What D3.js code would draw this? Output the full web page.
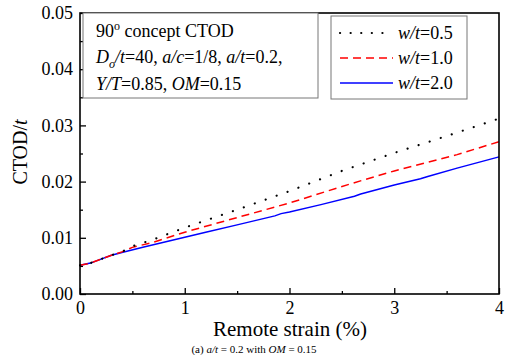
<!DOCTYPE html>
<html>
<head>
<meta charset="utf-8">
<script src="https://cdn.jsdelivr.net/npm/d3@7"></script>
<style>
  body { margin: 0; background: #fff; }
  svg text { font-family: "Liberation Serif", "Times New Roman", Tinos, "DejaVu Serif", serif !important; fill: #000; }
</style>
</head>
<body>
<div id="chart"></div>
<script>
// remote strain (%) vs CTOD/t
const strainA = [0, 0.1, 0.2, 0.3, 0.4, 0.5, 0.7, 1.0, 1.5, 2.0, 2.5, 3.0, 3.5, 4.0];
const ctodA   = [0.0051, 0.0055, 0.0062, 0.0069, 0.0075, 0.0085, 0.0097, 0.0118, 0.0150, 0.0183, 0.0219, 0.0251, 0.0281, 0.0312];

const strainB = [0, 0.1, 0.2, 0.3, 0.4, 0.5, 0.7, 1.0, 1.5, 2.0, 2.6, 3.0, 3.6, 4.0];
const ctodB   = [0.0051, 0.0055, 0.0062, 0.0069, 0.0075, 0.0083, 0.0092, 0.0110, 0.0136, 0.0162, 0.0197, 0.0219, 0.0248, 0.0271];

const strainC = [0, 0.1, 0.2, 0.3, 0.4, 0.6, 0.8, 1.0, 1.2, 1.5, 1.86, 1.92, 2.0, 2.3, 2.62, 2.68, 3.0, 3.25, 3.32, 3.6, 4.0];
const ctodC   = [0.0051, 0.0055, 0.0062, 0.0069, 0.0074, 0.0083, 0.0092, 0.0101, 0.0110, 0.0123, 0.0139, 0.0143, 0.0146, 0.0159, 0.0174, 0.0178, 0.0194, 0.0205, 0.0209, 0.0224, 0.0244];

const seriesLabels = ['0.5', '1.0', '2.0'];
const xTicks = [0, 1, 2, 3, 4];
const xMinor = [0.5, 1.5, 2.5, 3.5];
const yTicks = [0, 0.01, 0.02, 0.03, 0.04, 0.05];
const yMinor = [0.005, 0.015, 0.025, 0.035, 0.045];

const serif = '"Liberation Serif", "Times New Roman", Tinos, "DejaVu Serif", serif';

const width = 508, height = 355;
const margin = { top: 13, right: 9, bottom: 61, left: 80 };
const w = width - margin.left - margin.right;
const h = height - margin.top - margin.bottom;

const svg = d3.select('#chart').append('svg')
  .attr('width', width)
  .attr('height', height)
  .attr('font-family', serif);

const g = svg.append('g')
  .attr('transform', `translate(${margin.left},${margin.top})`);

const x = d3.scaleLinear().domain([0, 4]).range([0, w]);
const y = d3.scaleLinear().domain([0, 0.05]).range([h, 0]);

// axes, ticks pointing inward
g.append('g')
  .call(d3.axisLeft(y).tickValues(yTicks).tickSize(-6).tickPadding(7).tickFormat(d3.format('.2f')));
g.append('g')
  .call(d3.axisLeft(y).tickValues(yMinor).tickSize(-3).tickFormat(''));

g.append('g')
  .attr('transform', `translate(0,${h})`)
  .call(d3.axisBottom(x).tickValues(xTicks).tickSize(-6).tickPadding(7).tickFormat(d3.format('d')));
g.append('g')
  .attr('transform', `translate(0,${h})`)
  .call(d3.axisBottom(x).tickValues(xMinor).tickSize(-3).tickFormat(''));

g.selectAll('.domain').remove();
g.selectAll('g').attr('font-family', serif).attr('font-size', 18);
g.selectAll('.tick line').attr('stroke', '#000').attr('stroke-width', 1.3);
g.selectAll('.tick text').attr('fill', '#000');

// curves
const line = d3.line().x(d => x(d[0])).y(d => y(d[1]));
const styles = [
  { color: '#000', width: 2.2, dash: '0.1,11.5', cap: 'round' },
  { color: '#ff0000', width: 1.5, dash: '8,5', cap: 'butt' },
  { color: '#0000ff', width: 1.5, dash: null, cap: 'butt' }
];
const series = [
  d3.zip(strainA, ctodA),
  d3.zip(strainB, ctodB),
  d3.zip(strainC, ctodC)
];
// blue first so dotted/dashed sit on top
[2, 1, 0].forEach(i => {
  g.append('path')
    .datum(series[i])
    .attr('fill', 'none')
    .attr('stroke', styles[i].color)
    .attr('stroke-width', styles[i].width)
    .attr('stroke-linecap', styles[i].cap)
    .attr('stroke-dasharray', styles[i].dash)
    .attr('d', line);
});

// frame
g.append('rect')
  .attr('width', w).attr('height', h)
  .attr('fill', 'none')
  .attr('stroke', '#000')
  .attr('stroke-width', 1.6);

// info box
const info = svg.append('g');
info.append('rect')
  .attr('x', 83).attr('y', 13).attr('width', 235).attr('height', 85)
  .attr('fill', '#fff').attr('stroke', '#777').attr('stroke-width', 1);

const t1 = info.append('text').attr('x', 96).attr('y', 37).attr('font-size', 18);
t1.append('tspan').text('90');
t1.append('tspan').attr('dy', -7).attr('font-size', 12).text('o');
t1.append('tspan').attr('dy', 7).text(' concept CTOD');

const t2 = info.append('text').attr('x', 96).attr('y', 63).attr('font-size', 18);
t2.append('tspan').attr('font-style', 'italic').text('D');
t2.append('tspan').attr('dy', 5).attr('font-style', 'italic').attr('font-size', 12).text('o');
t2.append('tspan').attr('dy', -5).attr('font-style', 'italic').text('/t');
t2.append('tspan').text('=40, ');
t2.append('tspan').attr('font-style', 'italic').text('a/c');
t2.append('tspan').text('=1/8, ');
t2.append('tspan').attr('font-style', 'italic').text('a/t');
t2.append('tspan').text('=0.2,');

const t3 = info.append('text').attr('x', 96).attr('y', 90).attr('font-size', 18);
t3.append('tspan').attr('font-style', 'italic').text('Y/T');
t3.append('tspan').text('=0.85, ');
t3.append('tspan').attr('font-style', 'italic').text('OM');
t3.append('tspan').text('=0.15');

// legend
const legend = svg.append('g');
legend.append('rect')
  .attr('x', 331).attr('y', 16).attr('width', 136).attr('height', 83)
  .attr('fill', '#fff').attr('stroke', '#777').attr('stroke-width', 1);

seriesLabels.forEach((lab, i) => {
  const ly = 33 + i * 25;
  legend.append('line')
    .attr('x1', 340).attr('x2', 393).attr('y1', ly).attr('y2', ly)
    .attr('stroke', styles[i].color)
    .attr('stroke-width', styles[i].width)
    .attr('stroke-linecap', styles[i].cap)
    .attr('stroke-dasharray', i === 0 ? '0.1,10.5' : styles[i].dash);
  const tx = legend.append('text').attr('x', 398).attr('y', ly + 6).attr('font-size', 18);
  tx.append('tspan').attr('font-style', 'italic').text('w/t');
  tx.append('tspan').text('=' + lab);
});

// axis titles
svg.append('text')
  .attr('x', 290).attr('y', 336)
  .attr('text-anchor', 'middle')
  .attr('font-size', 21)
  .text('Remote strain (%)');

const yt = svg.append('text')
  .attr('transform', 'translate(27,152) rotate(-90)')
  .attr('text-anchor', 'middle')
  .attr('font-size', 20);
yt.append('tspan').text('CTOD/');
yt.append('tspan').attr('font-style', 'italic').text('t');

// sub-figure caption at the very bottom
const cap = svg.append('text')
  .attr('x', 254).attr('y', 353)
  .attr('text-anchor', 'middle')
  .attr('font-size', 11);
cap.append('tspan').text('(a)  ');
cap.append('tspan').attr('font-style', 'italic').text('a/t');
cap.append('tspan').text(' = 0.2 with ');
cap.append('tspan').attr('font-style', 'italic').text('OM');
cap.append('tspan').text(' = 0.15');
</script>
</body>
</html>
